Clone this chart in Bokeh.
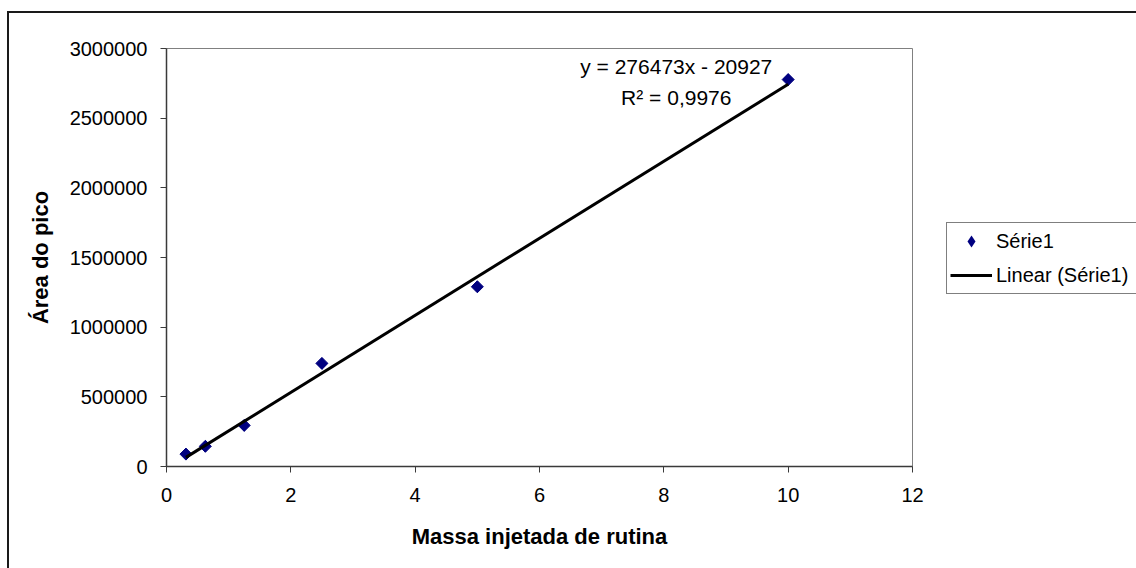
from bokeh.plotting import figure
from bokeh.models import (Range1d, FixedTicker, BasicTickFormatter, Legend, LegendItem, Label)
from bokeh.embed import file_html
from bokeh.resources import INLINE

# ---- data ----
massa = [0.3125, 0.625, 1.25, 2.5, 5, 10]
area = [89000, 145000, 295000, 740000, 1290000, 2777000]
slope = 276473
intercept = -20927
r2_text = "0,9976"
x_ticks = [0, 2, 4, 6, 8, 10, 12]
y_ticks = [0, 500000, 1000000, 1500000, 2000000, 2500000, 3000000]
series_name = "Série1"
trend_name = "Linear (Série1)"
x_title = "Massa injetada de rutina"
y_title = "Área do pico"

FONT = "Liberation Sans"

p = figure(frame_width=746, frame_height=418, output_backend="svg", toolbar_location=None,
           x_range=Range1d(0, 12), y_range=Range1d(0, 3000000),
           min_border_left=157, min_border_top=35, min_border_right=224,
           min_border_bottom=102,
           styles={"border-left": "2px solid #1a1a1a", "border-top": "2px solid #1a1a1a",
                   "margin-left": "7px", "margin-top": "11px"})
p.background_fill_color = "white"
p.border_fill_color = "white"
p.outline_line_color = "#808080"
p.outline_line_width = 1
p.xgrid.visible = False
p.ygrid.visible = False

for ax in (p.xaxis[0], p.yaxis[0]):
    ax.axis_line_color = "#3a3a3a"
    ax.axis_line_width = 1.5
    ax.major_tick_line_color = "#3a3a3a"
    ax.major_tick_in = 0
    ax.major_tick_out = 6
    ax.minor_tick_line_color = None
    ax.major_label_text_font = FONT
    ax.major_label_text_font_size = "20px"
    ax.major_label_text_color = "black"
    ax.axis_label_text_font = FONT
    ax.axis_label_text_font_size = "22px"
    ax.axis_label_text_font_style = "bold"
    ax.axis_label_text_color = "black"

p.xaxis.ticker = FixedTicker(ticks=x_ticks)
p.yaxis.ticker = FixedTicker(ticks=y_ticks)
p.yaxis.formatter = BasicTickFormatter(use_scientific=False)
p.xaxis.axis_label = x_title
p.yaxis.axis_label = y_title
p.xaxis.major_label_standoff = 15
p.yaxis.major_label_standoff = 13
p.xaxis.axis_label_standoff = 19
p.yaxis.axis_label_standoff = 14

# legend proxy: diamond drawn underneath the real (rotated-square) markers
sc_leg = p.scatter(massa, area, marker="diamond", size=12,
                   fill_color="#000080", line_color=None)
sc = p.scatter(massa, area, marker="square", angle=0.785398, size=8.5,
               fill_color="#000080", line_color="#000080")
tx = [massa[0], massa[-1]]
ty = [slope * v + intercept for v in tx]
ln = p.line(tx, ty, line_color="black", line_width=3)

p.add_layout(Label(x=8.2, y=2870000, text=f"y = {slope}x - {abs(intercept)}",
                   text_align="center", text_baseline="alphabetic",
                   text_font=FONT, text_font_size="21px", text_color="black"))
p.add_layout(Label(x=8.2, y=2647000, text=f"R² = {r2_text}",
                   text_align="center", text_baseline="alphabetic",
                   text_font=FONT, text_font_size="21px", text_color="black"))

legend = Legend(items=[LegendItem(label=series_name, renderers=[sc_leg]),
                       LegendItem(label=trend_name, renderers=[ln])],
                location=(34, 172))
legend.label_text_font = FONT
legend.label_text_font_size = "20px"
legend.label_text_color = "black"
legend.glyph_width = 42
legend.glyph_height = 30
legend.label_height = 30
legend.label_width = 142
legend.label_standoff = 4
legend.spacing = 4
legend.padding = 3
legend.margin = 0
legend.border_line_color = "black"
legend.border_line_width = 1
legend.background_fill_color = "white"
legend.background_fill_alpha = 1
p.add_layout(legend, "right")

open("out.html", "w").write(file_html(p, INLINE))
